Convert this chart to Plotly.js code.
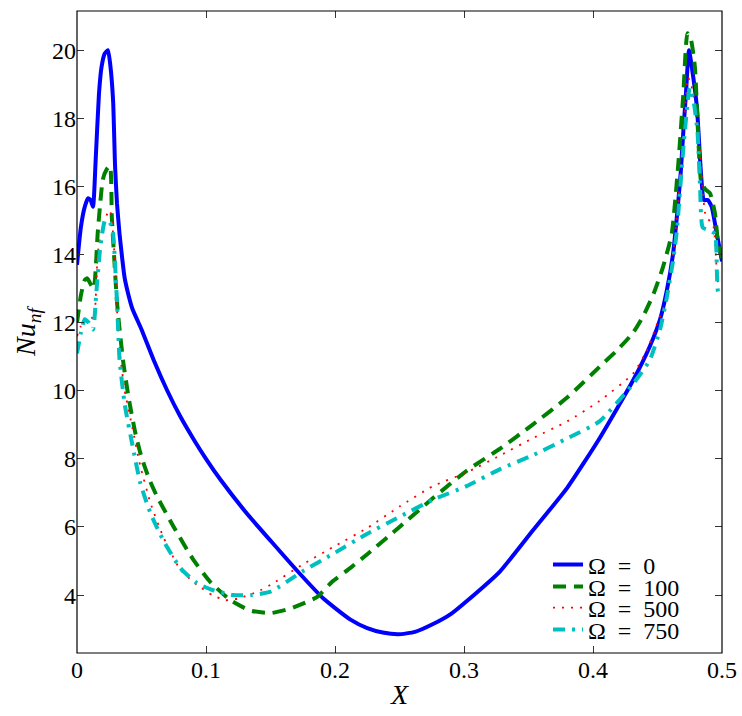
<!DOCTYPE html>
<html>
<head>
<meta charset="utf-8">
<script src="https://cdn.plot.ly/plotly-3.0.1.min.js"></script>
<style>html,body{margin:0;padding:0;background:#fff;}</style>
</head>
<body>
<div id="chart" style="width:742px;height:716px;"></div>
<script>
// Ω = 0
const x0 = [0,0.003,0.006,0.0085,0.0105,0.0124,0.0145,0.017,0.019,0.0215,0.024,0.026,0.028,0.0295,0.031,0.033,0.035,0.037,0.040,0.043,0.050,0.060,0.070,0.080,0.090,0.100,0.111,0.132,0.150,0.171,0.191,0.212,0.225,0.237,0.249,0.262,0.276,0.290,0.302,0.328,0.353,0.380,0.405,0.431,0.444,0.452,0.457,0.462,0.465,0.468,0.470,0.472,0.4744,0.477,0.4806,0.4835,0.486,0.489,0.492,0.496,0.5];
const y0 = [13.7,14.8,15.4,15.65,15.6,15.4,16.8,18.7,19.5,19.9,20.0,19.5,18.5,16.6,15.5,14.6,13.9,13.3,12.8,12.4,11.8,10.85,10.0,9.25,8.6,8.0,7.4,6.38,5.6,4.7,3.9,3.28,3.03,2.9,2.85,2.92,3.15,3.45,3.82,4.7,5.88,7.15,8.6,10.3,11.3,12.1,12.9,14.0,15.1,16.4,17.6,18.7,20.0,19.4,18.3,16.5,15.6,15.6,15.4,14.6,13.8];
// Ω = 100
const x100 = [0,0.003,0.006,0.008,0.011,0.013,0.016,0.018,0.020,0.023,0.0256,0.027,0.029,0.031,0.033,0.036,0.040,0.045,0.050,0.056,0.062,0.075,0.090,0.103,0.119,0.134,0.150,0.165,0.186,0.198,0.212,0.225,0.250,0.276,0.302,0.328,0.353,0.380,0.405,0.419,0.431,0.439,0.447,0.454,0.461,0.466,0.470,0.4732,0.476,0.479,0.4814,0.484,0.4875,0.4907,0.4946,0.497,0.5];
const y100 = [12.0,12.8,13.25,13.3,13.1,13.0,14.6,15.5,16.2,16.5,16.6,15.1,13.8,12.6,11.8,10.8,9.8,8.8,8.05,7.4,6.9,6.0,5.05,4.4,3.85,3.55,3.47,3.6,3.94,4.4,4.8,5.2,6.0,6.85,7.65,8.3,9.0,9.8,10.7,11.2,11.7,12.2,12.85,13.6,14.6,16.6,18.7,20.5,20.3,19.5,17.6,16.1,15.9,15.8,15.2,14.3,13.9];
// Ω = 500
const x500 = [0,0.003,0.006,0.010,0.013,0.016,0.018,0.020,0.0235,0.0256,0.028,0.030,0.031,0.033,0.037,0.043,0.049,0.057,0.067,0.080,0.093,0.105,0.115,0.125,0.140,0.150,0.175,0.198,0.225,0.250,0.276,0.302,0.328,0.353,0.380,0.405,0.431,0.442,0.450,0.457,0.462,0.466,0.470,0.4736,0.476,0.479,0.483,0.4876,0.493,0.497,0.5];
const y500 = [11.6,11.9,12.1,12.2,12.1,14.0,14.5,14.8,15.2,15.3,14.6,13.3,12.4,11.2,10.0,8.9,7.8,6.7,5.7,4.75,4.3,4.0,3.85,3.9,4.1,4.3,4.9,5.4,5.97,6.6,7.2,7.6,8.1,8.6,9.1,9.7,10.5,11.2,12.0,12.7,14.0,15.5,17.5,19.2,19.0,18.4,17.0,15.1,14.9,13.2,13.1];
// Ω = 750
const x750 = [0,0.003,0.006,0.009,0.0124,0.015,0.018,0.0217,0.024,0.026,0.028,0.031,0.033,0.037,0.043,0.049,0.057,0.067,0.080,0.093,0.105,0.121,0.135,0.150,0.175,0.198,0.225,0.250,0.276,0.302,0.328,0.353,0.380,0.405,0.431,0.444,0.452,0.457,0.462,0.465,0.470,0.475,0.478,0.481,0.483,0.485,0.4907,0.4946,0.497,0.5];
const y750 = [11.1,11.7,12.1,12.0,11.8,12.9,14.2,15.0,15.0,14.9,14.6,12.6,10.9,9.6,8.4,7.3,6.4,5.6,4.8,4.35,4.15,4.0,4.0,4.1,4.7,5.2,5.8,6.3,6.8,7.2,7.7,8.1,8.6,9.1,10.2,10.9,11.8,12.7,13.8,14.7,17.1,18.9,18.5,17.6,16.0,14.8,14.7,14.6,12.9,12.8];

const names = ['Ω\u2002=\u20020','Ω\u2002=\u2002100','Ω\u2002=\u2002500','Ω\u2002=\u2002750'];
const xTicks = [0,0.1,0.2,0.3,0.4,0.5];
const xTickText = ['0','0.1','0.2','0.3','0.4','0.5'];
const yTicks = [4,6,8,10,12,14,16,18,20];

const fam = 'Liberation Serif, Times New Roman, serif';
const font = {family:fam, color:'#000'};

const traces = [
  {x:x0, y:y0, name:names[0], legend:'legend', mode:'lines', line:{color:'#0000ff', width:4, shape:'spline', smoothing:0.5}},
  {x:x100, y:y100, name:names[1], legend:'legend2', mode:'lines', line:{color:'#008000', width:4, dash:'13px,8px', shape:'spline', smoothing:0.5}},
  {x:x500, y:y500, name:names[2], legend:'legend3', mode:'lines', line:{color:'#ff0000', width:1.8, dash:'2px,7px', shape:'spline', smoothing:0.5}},
  {x:x750, y:y750, name:names[3], legend:'legend4', mode:'lines', line:{color:'#00bfbf', width:4, dash:'12px,7px,3px,7px', shape:'spline', smoothing:0.5}}
];

const axisCommon = {
  showline:false, mirror:'ticks',
  ticks:'inside', ticklen:7, tickcolor:'#333', tickwidth:1,
  showgrid:false, zeroline:false,
  tickfont:{family:fam, size:24, color:'#000'}
};

function leg(py){
  return {x:(548-77)/645, y:(653-py)/642, xanchor:'left', yanchor:'middle',
          bgcolor:'rgba(0,0,0,0)', borderwidth:0,
          font:{family:fam, size:24, color:'#000'}};
}

const layout = {
  width:742, height:716,
  margin:{l:77, r:20, t:11, b:63},
  paper_bgcolor:'#fff', plot_bgcolor:'#fff',
  font:font,
  showlegend:true,
  legend:leg(565), legend2:leg(587), legend3:leg(608), legend4:leg(630),
  shapes:[{type:'rect', xref:'paper', yref:'paper', x0:0, x1:1, y0:0, y1:1,
           line:{color:'#000', width:1.2}, fillcolor:'rgba(0,0,0,0)', layer:'above'}],
  xaxis:Object.assign({}, axisCommon, {range:[0,0.5], tickvals:xTicks, ticktext:xTickText,
        title:{text:'<i>X</i>', font:{family:fam, size:28, color:'#000'}, standoff:2}}),
  yaxis:Object.assign({}, axisCommon, {range:[2.3,21.15], tickvals:yTicks,
        title:{text:'<i>Nu</i><sub><i>nf</i></sub>', font:{family:fam, size:28, color:'#000'}, standoff:8}})
};

Plotly.newPlot('chart', traces, layout, {displayModeBar:false, staticPlot:true});
</script>
</body>
</html>
